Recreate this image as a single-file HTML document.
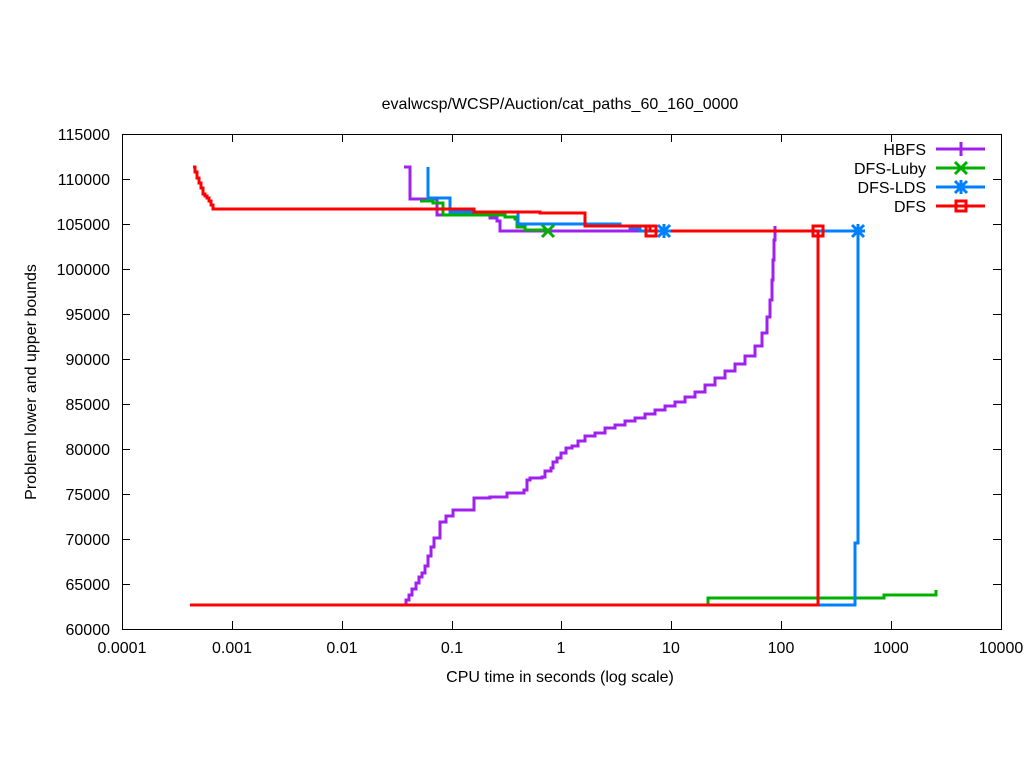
<!DOCTYPE html>
<html><head><meta charset="utf-8"><style>
body{margin:0;background:#fff}
svg text{font-family:"Liberation Sans",sans-serif;font-size:16px;fill:#000}
</style></head><body>
<svg width="1024" height="768" viewBox="0 0 1024 768" xmlns="http://www.w3.org/2000/svg">
<rect width="1024" height="768" fill="#fff"/>
<g stroke="#000" stroke-width="1" fill="none">
<rect x="122.5" y="134.5" width="879" height="495"/>
<path d="M122 629.5h8M122 584.5h8M122 539.5h8M122 494.5h8M122 449.5h8M122 404.5h8M122 359.5h8M122 314.5h8M122 269.5h8M122 224.5h8M122 179.5h8M122 134.5h8
M1001 629.5h-8M1001 584.5h-8M1001 539.5h-8M1001 494.5h-8M1001 449.5h-8M1001 404.5h-8M1001 359.5h-8M1001 314.5h-8M1001 269.5h-8M1001 224.5h-8M1001 179.5h-8"/>
<path d="M122.5 629v-8M232.5 629v-8M342.5 629v-8M452.5 629v-8M561.5 629v-8M671.5 629v-8M781.5 629v-8M891.5 629v-8M1001.5 629v-8
M122.5 134v8M232.5 134v8M342.5 134v8M452.5 134v8M561.5 134v8M671.5 134v8M781.5 134v8M891.5 134v8"/>
</g>
<g text-anchor="end">
<text x="110" y="635">60000</text><text x="110" y="590">65000</text><text x="110" y="545">70000</text><text x="110" y="500">75000</text><text x="110" y="455">80000</text><text x="110" y="410">85000</text><text x="110" y="365">90000</text><text x="110" y="320">95000</text><text x="110" y="275">100000</text><text x="110" y="230">105000</text><text x="110" y="185">110000</text><text x="110" y="140">115000</text>
</g>
<g text-anchor="middle">
<text x="122" y="653">0.0001</text><text x="232" y="653">0.001</text><text x="342" y="653">0.01</text><text x="452" y="653">0.1</text><text x="561" y="653">1</text><text x="671" y="653">10</text><text x="781" y="653">100</text><text x="891" y="653">1000</text><text x="1001" y="653">10000</text>
<text x="560" y="109">evalwcsp/WCSP/Auction/cat_paths_60_160_0000</text>
<text x="560" y="682">CPU time in seconds (log scale)</text>
<text transform="translate(36,382) rotate(-90)">Problem lower and upper bounds</text>
</g>
<g fill="none" stroke-width="3">
<path stroke="#a020f0" d="M404 167H410V199H437V215H490V218H497V221H500V231H775"/>
<path stroke="#a020f0" d="M406 605V600H409V595H412V589H416V583H419V577H422V573H425V566H428V556H431V547H434V538H440V522H446V516H453V510H474V498H490V497H507V493H524V490H527V480H530V478H542V477H545V471H551V468H553V462H557V458H561V453H566V448H572V446H578V441H585V436H595V433H605V428H615V425H625V421H635V418H645V414H655V410H665V406H675V402H685V397H695V392H705V385H715V378H725V371H735V364H745V356H755V346H762V333H767V317H770V300H772V280H773V260H774V240H775V226"/>
<path stroke="#00b000" d="M420 201H433V203H443V215H505V217H515V219H517V227H525V230H548"/>
<path stroke="#00b000" d="M708 605V598H884V595H936V590"/>
<path stroke="#0080ff" d="M428 167V198H450V212H518V224H620V226H630V228H640V231H858V543H855V605H818"/>
<path stroke="#ff0000" d="M193 167H195V172H197V178H199V183H201V188H203V194H205V196H207V198H209V201H211V205H213V209H474V212H540V213H585V226H650V231H818V605H190"/>
<path stroke="#00b000" d="M542 225l12 12M554 225l-12 12"/>
<path stroke="#0080ff" d="M658 225l12 12M670 225l-12 12M664 224v14M657 231h14M852 225l12 12M864 225l-12 12M858 224v14M851 231h14"/>
<path stroke="#ff0000" d="M646 226h10v10h-10zM813 226h10v10h-10z"/>
<path stroke="#a020f0" d="M936 149h49M961 142v14"/>
<path stroke="#00b000" d="M936 168h49M955 162l12 12M967 162l-12 12"/>
<path stroke="#0080ff" d="M936 187h49M955 181l12 12M967 181l-12 12M961 180v14"/>
<path stroke="#ff0000" d="M936 206h49M956 201h10v10h-10z"/>
</g>
<g text-anchor="end">
<text x="926" y="155">HBFS</text><text x="926" y="174">DFS-Luby</text><text x="926" y="193">DFS-LDS</text><text x="926" y="212">DFS</text>
</g>
</svg>
</body></html>
